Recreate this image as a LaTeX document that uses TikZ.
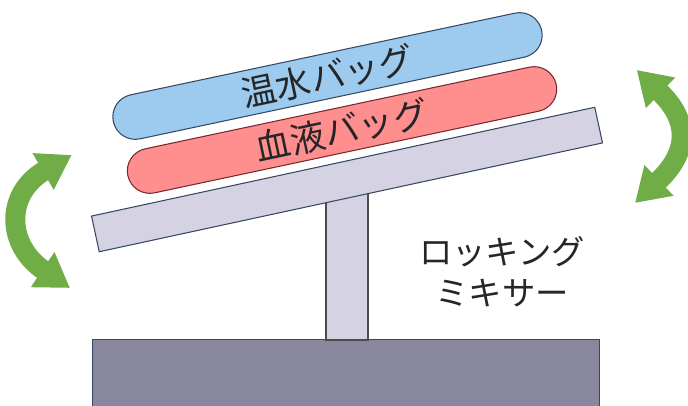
\documentclass[tikz,border=0pt]{standalone}
\usepackage{fontspec}
\newfontfamily\jp{Noto Sans CJK JP}
\usetikzlibrary{arrows.meta}

\definecolor{rockgreen}{RGB}{112,173,71}
\definecolor{warmblue}{RGB}{157,203,240}
\definecolor{bloodred}{RGB}{255,142,142}
\definecolor{traygray}{RGB}{213,211,227}
\definecolor{basegray}{RGB}{136,135,158}
\definecolor{edgeblue}{RGB}{52,72,98}
\definecolor{edgered}{RGB}{120,40,45}

\begin{document}
\begin{tikzpicture}[
            x = 0.02cm, y = -0.02cm, % one unit is one pixel, y runs down
            > = {Triangle[length=0.66cm, width=0.8cm]}, % heads of the rocking arrows
            line width = 0.6pt % outline of all parts
        ]

        \tikzstyle{bag}=[
            draw,
            rounded corners = 0.45cm,
            minimum width = 8.76cm,
            minimum height = 0.9cm,
            inner sep = 0pt,
            rotate = 12,
            font = \jp\fontsize{20}{24}\selectfont,
            text = black!85
        ]
        \tikzstyle{part}=[
            draw = edgeblue,
            inner sep = 0pt
        ]
        \tikzstyle{rock}=[
            <->,
            draw = rockgreen,
            line width = 0.4cm
        ]

        \useasboundingbox (0,0) rectangle (688,405);

        % mixer body, post and tilting tray
        \node[part, fill=basegray, anchor=north,
              minimum width=10.16cm, minimum height=2cm] (base) at (346,339) {};
        \node[part, draw=black!70, fill=traygray,
              minimum width=0.84cm, minimum height=3cm] (post) at (347,265) {};
        \node[part, fill=traygray, rotate=12.2,
              minimum width=10.3cm, minimum height=0.73cm] (tray) at (347,179.5) {};

        % the two bags lying on the tray
        \node[bag, fill=bloodred, draw=edgered] (blood) at (342,130) {血液バッグ};
        \node[bag, fill=warmblue, draw=edgeblue] (warm) at (327.5,76) {温水バッグ};

        \node[font=\jp\fontsize{19}{23.5}\selectfont, text=black!85,
              align=center] (mixer) at (502,272) {ロッキング\\ミキサー};

        % rocking arrows
        \coordinate (lt) at (71.7,155);
        \coordinate (lb) at (70,288);
        \coordinate (rt) at (636.7,70);
        \coordinate (rb) at (635,203);
        \draw[rock] (lt) .. controls (5,193.5) and (6,245) .. (lb);
        \draw[rock] (rt) .. controls (690,121) and (689,152) .. (rb);

    \end{tikzpicture}
\end{document}
